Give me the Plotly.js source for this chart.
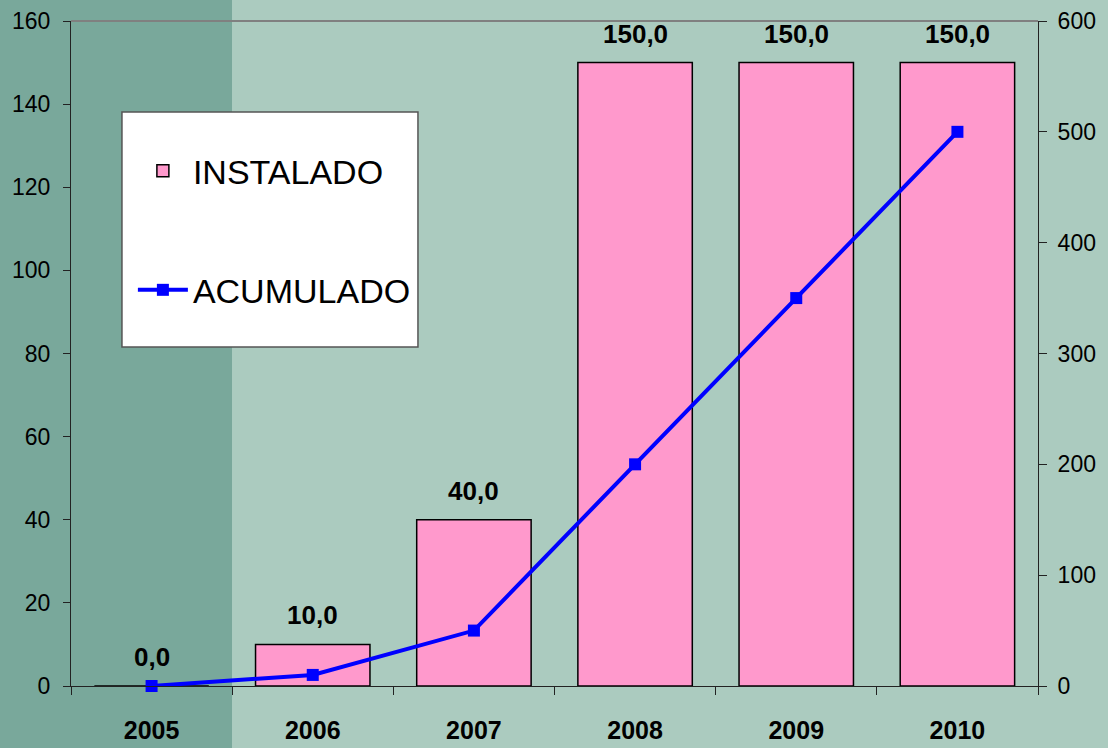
<!DOCTYPE html>
<html>
<head>
<meta charset="utf-8">
<script src="https://cdn.plot.ly/plotly-3.0.1.min.js"></script>
<style>html,body{margin:0;padding:0;background:#abcbbf;}#chart{width:1108px;height:748px;}</style>
</head>
<body>
<div id="chart"></div>
<script>
var years = ['2005', '2006', '2007', '2008', '2009', '2010'];
var instalado = [0, 10, 40, 150, 150, 150];
var acumulado = [0, 10, 50, 200, 350, 500];
var leftTicks = [0, 20, 40, 60, 80, 100, 120, 140, 160];
var rightTicks = [0, 100, 200, 300, 400, 500, 600];

var FONT = '"Liberation Sans", Arial, sans-serif';

var barLabels = instalado.map(function (v) { return v.toFixed(1).replace('.', ','); });

var traces = [
  {
    type: 'bar', name: 'INSTALADO', x: years, y: instalado,
    legendgroup: 'a',
    marker: { color: '#ff99cc', line: { color: '#000000', width: 1.5 } },
    hoverinfo: 'skip'
  },
  {
    type: 'scatter', mode: 'lines+markers', name: 'ACUMULADO', x: years, y: acumulado,
    yaxis: 'y2', legendgroup: 'b',
    line: { color: '#0000ff', width: 4 },
    marker: { symbol: 'square', size: 12, color: '#0000ff' },
    cliponaxis: false, hoverinfo: 'skip'
  }
];

// category axes: annotation x is the category's serial index
var annotations = years.map(function (yr, i) {
  return {
    x: i, y: instalado[i], xref: 'x', yref: 'y',
    text: barLabels[i], showarrow: false,
    xanchor: 'center', yanchor: 'bottom', yshift: 12,
    font: { family: FONT, size: 26, color: '#000000', weight: 'bold' }
  };
});

var layout = {
  width: 1108, height: 748,
  margin: { l: 71, r: 70, t: 21, b: 62, pad: 0 },
  paper_bgcolor: '#abcbbf',
  plot_bgcolor: 'rgba(0,0,0,0)',
  font: { family: FONT, color: '#000000' },
  bargap: 0.29,
  showlegend: true,
  legend: {
    x: 0.064, y: 0.818, xanchor: 'left', yanchor: 'top',
    bgcolor: 'rgba(0,0,0,0)', borderwidth: 0,
    font: { family: FONT, size: 34, color: '#000000' },
    tracegroupgap: 72, itemwidth: 50, traceorder: 'grouped'
  },
  annotations: annotations,
  xaxis: {
    type: 'category', tickson: 'boundaries', ticks: 'outside', ticklen: 8,
    tickcolor: '#222222', tickwidth: 1,
    showline: true, linecolor: '#222222', linewidth: 1,
    showgrid: false, zeroline: false,
    tickfont: { family: FONT, size: 25, color: '#000000', weight: 'bold' },
    ticklabelstandoff: 22, tickangle: 0, fixedrange: true
  },
  yaxis: {
    range: [0, 160], tickvals: leftTicks, ticktext: leftTicks.map(String),
    ticks: 'outside', ticklen: 7, tickcolor: '#222222',
    showline: true, linecolor: '#222222', linewidth: 1,
    showgrid: false, zeroline: false,
    tickfont: { family: FONT, size: 23, color: '#000000' },
    ticklabelstandoff: 8, fixedrange: true
  },
  yaxis2: {
    overlaying: 'y', side: 'right', range: [0, 600],
    tickvals: rightTicks, ticktext: rightTicks.map(String),
    ticks: 'outside', ticklen: 8, tickcolor: '#222222',
    showline: true, linecolor: '#222222', linewidth: 1,
    showgrid: false, zeroline: false,
    tickfont: { family: FONT, size: 23, color: '#000000' },
    ticklabelstandoff: 6, fixedrange: true
  },
  shapes: [
    { type: 'rect', xref: 'paper', yref: 'paper', x0: -0.2, x1: 0.1665, y0: -0.2, y1: 1.1,
      fillcolor: '#79a89b', line: { width: 0 }, layer: 'below' },
    { type: 'line', xref: 'paper', yref: 'paper', x0: 0, x1: 1, y0: 1, y1: 1,
      line: { color: '#808080', width: 2 }, layer: 'below' },
    { type: 'rect', xref: 'paper', yref: 'paper', x0: 0.0527, x1: 0.3588, y0: 0.5098, y1: 0.8632,
      fillcolor: '#ffffff', line: { color: '#555555', width: 1.5 }, layer: 'above' }
  ]
};

Plotly.newPlot('chart', traces, layout, { staticPlot: true, displayModeBar: false });
</script>
</body>
</html>
